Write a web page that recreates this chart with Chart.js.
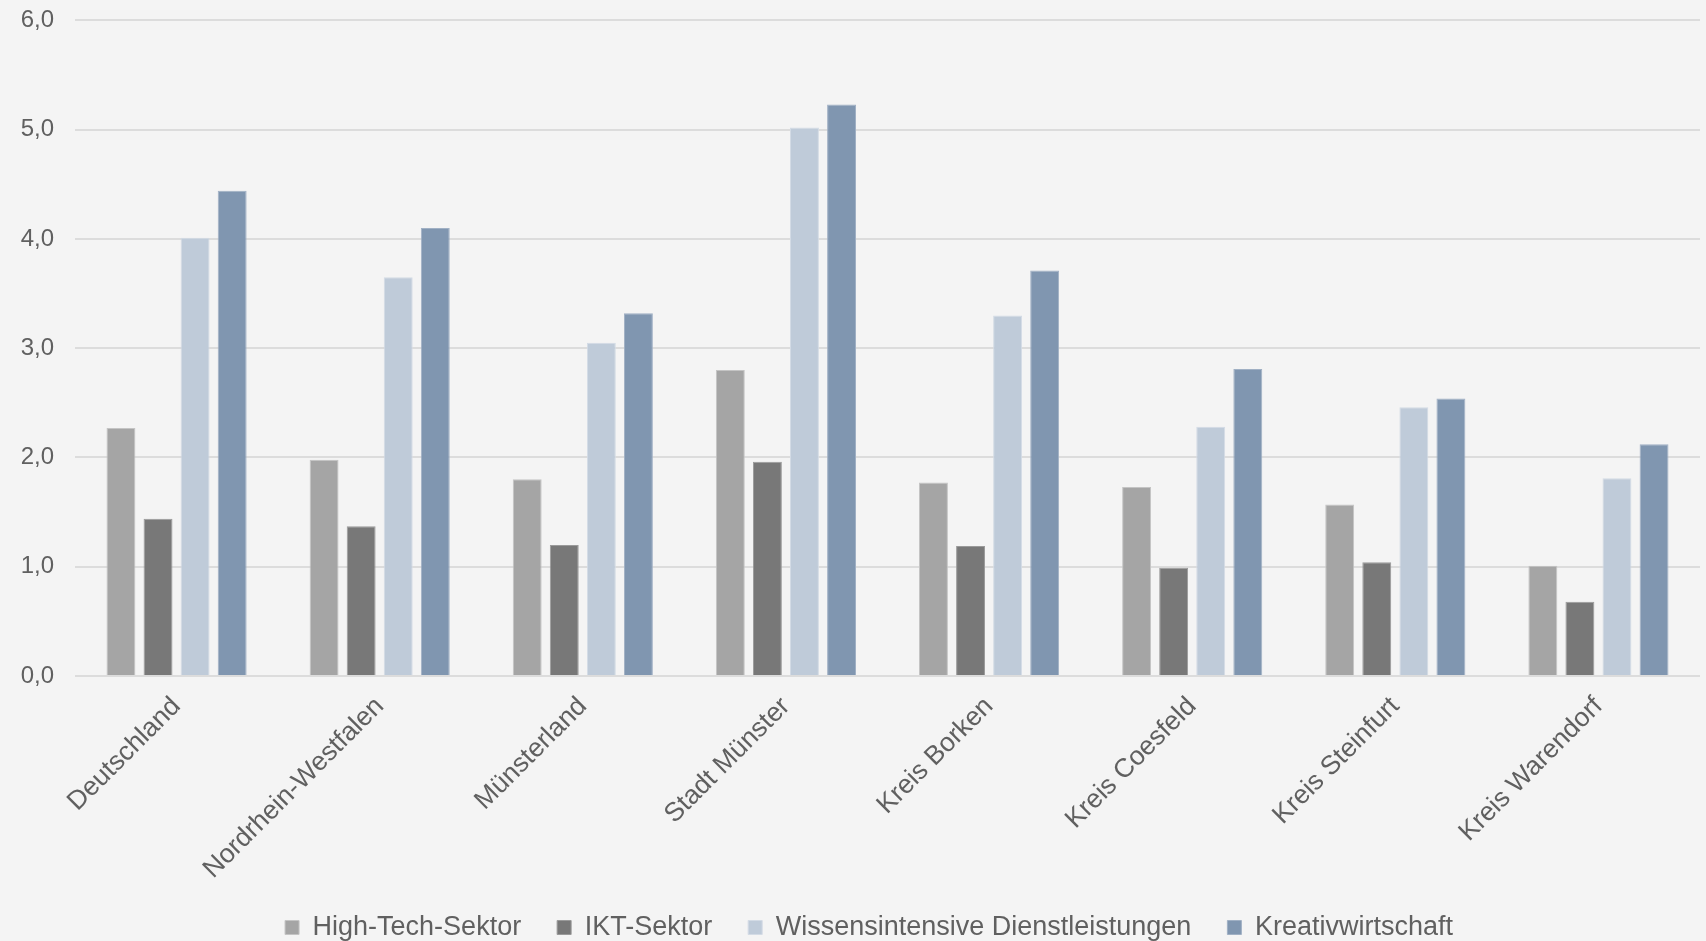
<!DOCTYPE html>
<html lang="de">
<head>
<meta charset="UTF-8">
<title>Sektoranteile</title>
<script src="https://cdn.jsdelivr.net/npm/chart.js"></script>
<style>
    html, body { margin: 0; padding: 0; background: #f4f4f4; overflow: hidden; }
    /* etwas höher als das Fenster, damit die Achse oben enger anliegt */
    .boxGrafico { width: 1706px; height: 956px; margin-top: -15px; }
</style>
</head>
<body>
<div class="boxGrafico">
    <canvas id="graficoSektoren"></canvas>
</div>
<script>
    const regioes = ['Deutschland', 'Nordrhein-Westfalen', 'Münsterland', 'Stadt Münster',
        'Kreis Borken', 'Kreis Coesfeld', 'Kreis Steinfurt', 'Kreis Warendorf'];

    const highTech = [2.27, 1.98, 1.80, 2.80, 1.77, 1.73, 1.57, 1.01];
    const ikt = [1.44, 1.37, 1.20, 1.96, 1.19, 0.99, 1.04, 0.68];
    const wissensintensiv = [4.01, 3.65, 3.05, 5.02, 3.30, 2.28, 2.46, 1.81];
    const kreativ = [4.44, 4.10, 3.32, 5.23, 3.71, 2.81, 2.54, 2.12];

    const yTicks = [0, 1, 2, 3, 4, 5, 6];

    const corTexto = '#606060';
    const fonte = 'Liberation Sans, Arial, sans-serif';

    function serie(label, data, cor, borda) {
        return {
            label: label,
            data: data,
            backgroundColor: cor,
            borderColor: borda,
            borderWidth: 1,
            categoryPercentage: 0.73,
            barPercentage: 0.78
        };
    }

    // legenda centralizada sobre a área do gráfico, não sobre o canvas inteiro
    const deslocaLegenda = {
        id: 'deslocaLegenda',
        afterLayout(chart) {
            chart.legend.left += 19;
            chart.legend.right += 19;
        }
    };

    const ctx = document.getElementById('graficoSektoren');

    new Chart(ctx, {
        type: 'bar',
        data: {
            labels: regioes,
            datasets: [
                serie('High-Tech-Sektor', highTech, '#a5a5a5', '#c4c4c4'),
                serie('IKT-Sektor', ikt, '#787878', '#9a9a9a'),
                serie('Wissensintensive Dienstleistungen', wissensintensiv, '#bfcbd9', '#d3dbe5'),
                serie('Kreativwirtschaft', kreativ, '#8096b0', '#a0b0c4')
            ]
        },
        options: {
            responsive: true,
            maintainAspectRatio: false,
            animation: false,
            layout: { padding: { top: 0, right: 6, left: 0, bottom: -10 } },
            scales: {
                x: {
                    grid: { display: false, drawTicks: false },
                    border: { display: false },
                    ticks: {
                        color: corTexto,
                        font: { family: fonte, size: 26.5 },
                        minRotation: 45,
                        maxRotation: 45,
                        autoSkip: false,
                        padding: 15
                    },
                    afterFit: (scale) => { scale.height = 202; }
                },
                y: {
                    min: 0,
                    max: 6,
                    afterBuildTicks: (scale) => {
                        scale.ticks = yTicks.map(v => ({ value: v }));
                    },
                    grid: { color: '#dcdcdc', lineWidth: 2, drawTicks: false },
                    border: { display: false },
                    ticks: {
                        color: corTexto,
                        font: { family: fonte, size: 24 },
                        padding: 21,
                        callback: (v) => Number(v).toFixed(1).replace('.', ',')
                    },
                    afterFit: (scale) => { scale.width = 75; }
                }
            },
            plugins: {
                legend: {
                    position: 'bottom',
                    labels: {
                        color: corTexto,
                        font: { family: fonte, size: 27 },
                        boxWidth: 14,
                        boxHeight: 14,
                        padding: 36
                    }
                },
                tooltip: { enabled: false }
            }
        },
        plugins: [deslocaLegenda]
    });
</script>
</body>
</html>
